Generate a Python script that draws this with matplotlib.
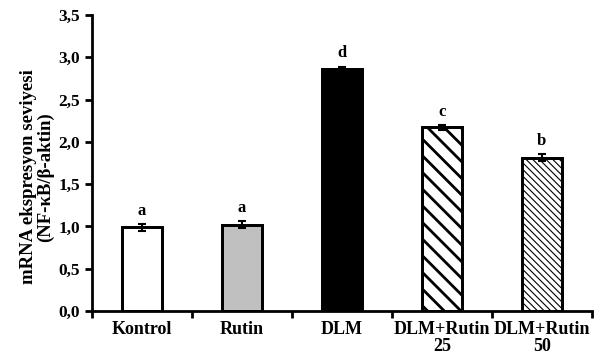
import matplotlib
matplotlib.use("Agg")
import matplotlib.pyplot as plt
import numpy as np

categories = ["Kontrol", "Rutin", "DLM", "DLM+Rutin\n25", "DLM+Rutin\n50"]
values = [0.99, 1.02, 2.86, 2.17, 1.81]
errors = [0.04, 0.04, 0.03, 0.03, 0.04]
letters = ["a", "a", "d", "c", "b"]
facecolors = ["white", "#c0c0c0", "black", "white", "white"]
hatches = [None, None, None, "\\\\", "\\\\\\\\\\"]
yticks = [0.0, 0.5, 1.0, 1.5, 2.0, 2.5, 3.0, 3.5]

plt.rcParams["font.family"] = "Liberation Serif"
plt.rcParams["font.weight"] = "bold"

fig = plt.figure(figsize=(5.99, 3.62), dpi=100)
ax = fig.add_axes([0.1536, 0.141, 0.8344, 0.8177])

x = np.arange(len(categories))
for i in range(len(categories)):
    if hatches[i] == "\\\\\\\\\\":
        plt.rcParams["hatch.color"] = "#777777"
        plt.rcParams["hatch.linewidth"] = 0.8
    else:
        plt.rcParams["hatch.color"] = "black"
        plt.rcParams["hatch.linewidth"] = 2.0
    ax.bar(x[i], values[i], 0.4, color=facecolors[i], edgecolor="black",
           linewidth=2, hatch=hatches[i], zorder=2)
    # black outline on top of the hatch
    ax.bar(x[i], values[i], 0.4, fill=False, edgecolor="black", linewidth=2, zorder=3)

ax.errorbar(x, values, yerr=errors, fmt="none", ecolor="black",
            elinewidth=1.5, capsize=3, capthick=1.5, zorder=4)
for i in range(len(categories)):
    ax.text(x[i], values[i] + errors[i] + 0.06, letters[i], ha="center",
            va="bottom", fontsize=12, fontweight="bold")

ax.set_xlim(-0.5, 4.5)
ax.set_ylim(0, 3.5)
ax.set_yticks(yticks)
ax.set_yticklabels([f"{v:.1f}".replace(".", ",") for v in yticks], fontsize=12.5)
ax.set_xticks(np.arange(-0.5, 5, 1.0))
ax.set_xticklabels([])
ax.set_xticks(x, minor=True)
ax.set_xticklabels(categories, minor=True, fontsize=13, linespacing=1.0)
ax.tick_params(axis="x", which="minor", length=0, pad=7)
ax.tick_params(axis="both", which="major", direction="out", width=2, length=5)

for s in ["top", "right"]:
    ax.spines[s].set_visible(False)
for s in ["left", "bottom"]:
    ax.spines[s].set_linewidth(2)

ax.set_ylabel("mRNA ekspresyon seviyesi\n(NF-\u03baB/\u03b2-aktin)", fontsize=13.5,
              fontweight="bold", linespacing=1.0)
ax.yaxis.set_label_coords(-0.075, 0.453)

fig.savefig("out.png", dpi=100)
